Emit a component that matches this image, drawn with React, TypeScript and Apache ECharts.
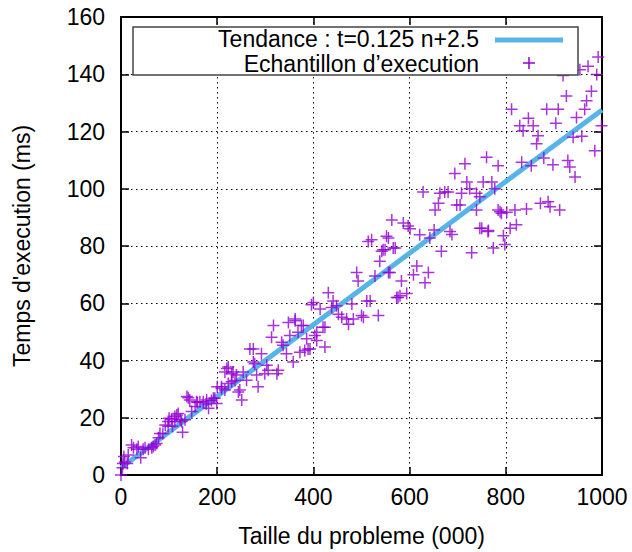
import React, { useEffect, useRef } from "react";
import * as echarts from "echarts";

// Tick labels
const xTicks = [0, 200, 400, 600, 800, 1000];
const yTicks = [0, 20, 40, 60, 80, 100, 120, 140, 160];

// Trend line t = 0.125 n + 2.5
const trendN = [0, 1000];
const trendT = [2.5, 127.5];

// Execution samples (problem size in thousands, time in ms)
const sampleN = [
  0, 3, 4, 8, 6, 13, 15, 22, 26, 33, 36, 41, 46, 50, 57, 64, 67, 71, 74, 78, 81, 87, 92, 98, 98,
  100, 105, 107, 112, 112, 116, 119, 123, 126, 128, 133, 137, 140, 143, 147, 154, 157, 159, 164, 171, 177, 178, 182, 188, 192, 195, 199, 200,
  209, 209, 216, 216, 220, 223, 223, 230, 230, 233, 237, 240, 244, 247, 251, 254, 261, 268, 275, 275, 278, 282, 285, 292, 299,
  303, 306, 313, 317, 324, 327, 334, 337, 344, 348, 351, 358, 362, 362, 368, 372, 375, 379, 382, 386, 389, 393, 396, 400,
  403, 407, 407, 414, 420, 424, 424, 431, 438, 441, 448, 452, 459, 469, 473, 480, 483, 490, 493, 500,
  504, 511, 514, 518, 521, 528, 535, 538, 542, 545, 549, 552, 556, 556, 559, 563, 566, 570, 573, 576, 580, 583, 587, 594, 597,
  601, 608, 615, 621, 628, 632, 639, 642, 651, 653, 660, 663, 666, 673, 680, 684, 688, 694, 698,
  705, 708, 715, 719, 725, 729, 739, 739, 746, 746, 750, 753, 760, 763, 764, 771, 774, 777, 784, 784, 788, 791, 795, 798,
  802, 809, 812, 819, 822, 829, 833, 836, 843, 847, 853, 857, 864, 867, 872, 879, 885, 888, 892, 898,
  904, 909, 912, 919, 926, 929, 933, 940, 944, 947, 954, 958, 964, 968, 971, 978, 985, 989, 992, 999,
];
const sampleT = [
  0, 2.5, 4, 4.5, 6.5, 4, 7, 10.5, 9.5, 9, 10, 6, 9, 9.5, 9, 9.5, 10, 10.5, 11, 13, 14.5, 14.5, 17.5, 17, 18.7,
  19.8, 19.5, 17, 20.4, 18.7, 21, 21.5, 19.3, 18.7, 14.9, 19.3, 27.4, 27, 26.2, 22.2, 23.9, 25.6, 25.3, 25.6, 25.6, 24.8, 26.2, 23.3, 26, 26.8, 26.8, 25, 30.8,
  30.8, 30.2, 29.7, 36, 37.2, 37.7, 32, 35.4, 32.6, 36, 33, 34.9, 29, 29.7, 26.2, 36, 33.1, 44, 44, 39.5, 38.9, 34.9, 30.8, 42.4, 35.4,
  38.3, 36.6, 48.1, 52.2, 35.4, 36.6, 46.4, 45.3, 42.4, 53.3, 48.7, 39.5, 53.9, 54.5, 49.9, 42.9, 52.2, 52.2, 43.5, 47.6, 44, 44, 59.5, 60.3,
  48.7, 47, 49.9, 58, 51.6, 44.7, 51.6, 63.7, 58.5, 60.8, 59.1, 56.2, 55.1, 54.5, 52.7, 59.7, 54.5, 70.7, 67.8, 55.7,
  55.1, 60.8, 81.6, 60.8, 82.2, 69.5, 55.7, 74.7, 78.2, 78.7, 78.7, 83.4, 82.8, 70.7, 70.7, 89.1, 79.3, 79.3, 62, 62, 62.6, 67.8, 88, 63.4, 87,
  86, 70, 73, 83.9, 98.9, 67.2, 70.7, 82.8, 85.6, 92.6, 94.9, 98.4, 78.2, 98.9, 98.9, 85.1, 84, 105.3, 94.3,
  94.3, 98.4, 108.7, 102.4, 100, 77.6, 98.4, 92.6, 97.2, 86.2, 86.2, 102.4, 111, 85.1, 85.4, 102.4, 79.3, 100, 108, 92.6, 92, 91.4, 83.6, 80.5,
  91.8, 86.2, 127.8, 92.6, 87.4, 122, 109.3, 120.3, 92.9, 124.6, 108, 122, 115.7, 118.5, 94.9, 110.7, 127.8, 95.5, 93.7, 108.4,
  122.9, 127.8, 92.6, 139.6, 132.4, 109.9, 107.6, 118, 104.1, 124.9, 141.6, 118.3, 127.8, 130.7, 142.8, 134.1, 113.3, 139.9, 146, 122,
];

const FONT = "Liberation Sans, Arial, Helvetica, sans-serif";
const FS = 23;
const PURPLE = "#9400D3";
const BLUE = "#56B4E9";
const PLUS = "path://M0,6H12M6,0V12";

export default function App() {
  const ref = useRef<HTMLDivElement>(null);
  useEffect(() => {
    if (!ref.current) return;
    const chart = echarts.init(ref.current, undefined, { renderer: "svg" });
    const samples = sampleN.map((n, i) => [n, sampleT[i]]);
    const trend = trendN.map((n, i) => [n, trendT[i]]);
    const xMin = xTicks[0];
    const xMax = xTicks[xTicks.length - 1];
    const yMin = yTicks[0];
    const yMax = yTicks[yTicks.length - 1];
    const tickCommon = { show: true, inside: true, length: 8, lineStyle: { color: "#000", width: 1.5 } };
    const lineCommon = { show: true, onZero: false, lineStyle: { color: "#000", width: 2 } };
    const gridLine = { show: true, lineStyle: { color: "#000", width: 1, type: [1.5, 3.5] as any } };
    const labelCommon = { color: "#000", fontSize: FS, fontFamily: FONT };
    const fmt = (v: number) => String(v);
    chart.setOption({
      animation: false,
      backgroundColor: "#fff",
      grid: { left: 121, top: 17, right: 30, bottom: 73, containLabel: false },
      xAxis: [
        {
          type: "value", min: xMin, max: xMax, interval: 200, position: "bottom",
          name: "Taille du probleme (000)", nameLocation: "middle", nameGap: 49,
          nameTextStyle: { ...labelCommon },
          axisLine: lineCommon, axisTick: tickCommon,
          axisLabel: { ...labelCommon, margin: 10, formatter: fmt },
          splitLine: gridLine,
        },
        {
          type: "value", min: xMin, max: xMax, interval: 200, position: "top",
          axisLine: lineCommon, axisTick: tickCommon, axisLabel: { show: false }, splitLine: { show: false },
        },
      ],
      yAxis: [
        {
          type: "value", min: yMin, max: yMax, interval: 20, position: "left",
          name: "Temps d'execution (ms)", nameLocation: "middle", nameGap: 88,
          nameTextStyle: { ...labelCommon },
          axisLine: lineCommon, axisTick: tickCommon,
          axisLabel: { ...labelCommon, margin: 16, formatter: fmt },
          splitLine: gridLine,
        },
        {
          type: "value", min: yMin, max: yMax, interval: 20, position: "right",
          axisLine: lineCommon, axisTick: tickCommon, axisLabel: { show: false }, splitLine: { show: false },
        },
      ],
      series: [
        {
          name: "Tendance : t=0.125 n+2.5",
          type: "line",
          data: trend,
          showSymbol: false,
          symbol: "none",
          lineStyle: { color: BLUE, width: 5 },
          z: 2,
        },
        {
          name: "Echantillon d’execution",
          type: "scatter",
          data: samples,
          symbol: PLUS,
          symbolSize: 12,
          clip: false,
          itemStyle: { color: PURPLE, borderColor: PURPLE, borderWidth: 1.5 },
          z: 3,
        },
      ],
      graphic: [
        {
          type: "group",
          z: 100,
          children: [
            {
              type: "rect",
              shape: { x: 133, y: 27, width: 445, height: 48 },
              style: { fill: "#fff", stroke: "#444", lineWidth: 1.5 },
              z: 100,
            },
            {
              type: "text",
              x: 479, y: 39,
              style: { text: "Tendance : t=0.125 n+2.5", fill: "#000", font: `${FS}px ${FONT}`, align: "right", verticalAlign: "middle" },
              z: 101,
            },
            {
              type: "line",
              shape: { x1: 495, y1: 40, x2: 563, y2: 40 },
              style: { stroke: BLUE, lineWidth: 5 },
              z: 101,
            },
            {
              type: "text",
              x: 479, y: 64,
              style: { text: "Echantillon d’execution", fill: "#000", font: `${FS}px ${FONT}`, align: "right", verticalAlign: "middle" },
              z: 101,
            },
            {
              type: "line",
              shape: { x1: 523, y1: 63, x2: 535, y2: 63 },
              style: { stroke: PURPLE, lineWidth: 1.5 },
              z: 101,
            },
            {
              type: "line",
              shape: { x1: 529, y1: 57, x2: 529, y2: 69 },
              style: { stroke: PURPLE, lineWidth: 1.5 },
              z: 101,
            },
          ],
        },
      ],
    });
    return () => chart.dispose();
  }, []);
  return (
    <div
      ref={ref}
      style={{ position: "fixed", left: 0, top: 0, width: 632, height: 552, background: "#fff" }}
    />
  );
}
